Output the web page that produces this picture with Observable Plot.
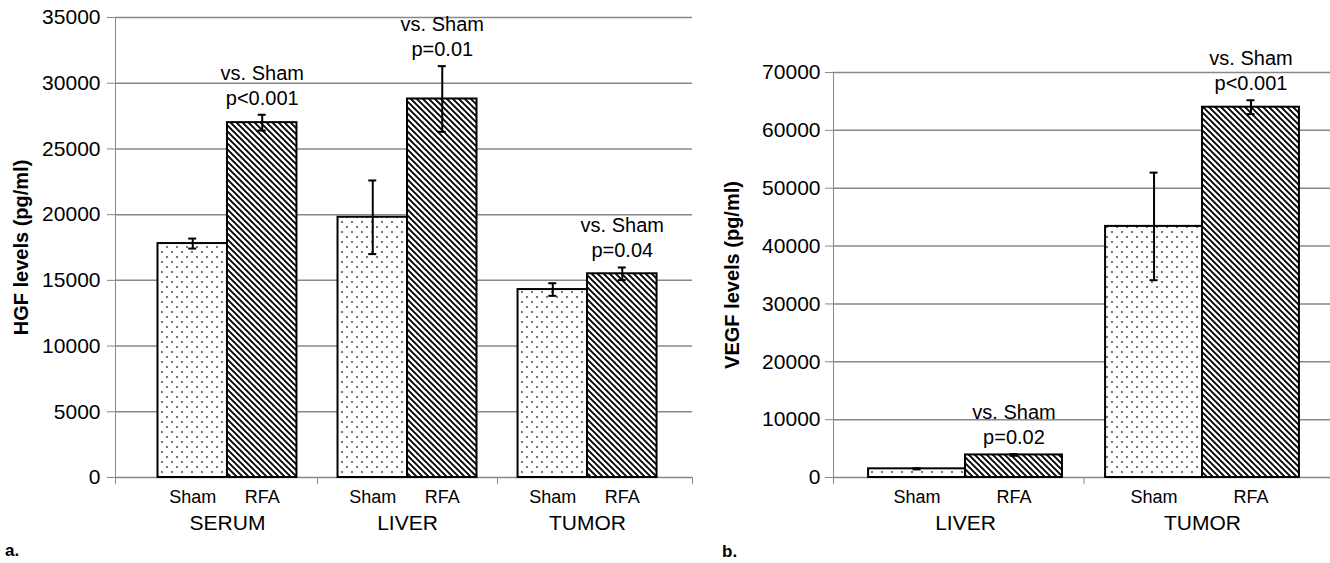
<!DOCTYPE html>
<html>
<head>
<meta charset="utf-8">
<script src="https://cdn.jsdelivr.net/npm/d3@7"></script>
<script src="https://cdn.jsdelivr.net/npm/@observablehq/plot@0.6"></script>
<style>
  html, body { margin: 0; padding: 0; background: white; }
  #wrap { position: relative; width: 1330px; height: 563px; overflow: hidden; background: white; }
  #left { position: absolute; left: 0; top: 0; }
  #right { position: absolute; left: 700px; top: 0; }
  .panel { position: absolute; font-family: "Liberation Sans Narrow", "Liberation Sans", Arial, sans-serif; font-weight: bold; font-size: 17px; line-height: 17px; color: black; }
</style>
</head>
<body>
<div id="wrap">
  <div id="left"></div>
  <div id="right"></div>
  <div class="panel" style="left:5px; top:542px;">a.</div>
  <div class="panel" style="left:722px; top:543px;">b.</div>
</div>
<script>
// ---- data ----
const conditions = ["Sham", "RFA"];

const hgfGroups = ["SERUM", "LIVER", "TUMOR"];
const hgfSham = [17800, 19800, 14300];
const hgfShamErr = [380, 2800, 480];
const hgfRFA = [27000, 28800, 15500];
const hgfRFAErr = [600, 2500, 480];
const hgfP = ["p<0.001", "p=0.01", "p=0.04"];
const hgfTicks = [0, 5000, 10000, 15000, 20000, 25000, 30000, 35000];
const hgfLabel = "HGF levels (pg/ml)";

const vegfGroups = ["LIVER", "TUMOR"];
const vegfSham = [1500, 43400];
const vegfShamErr = [100, 9300];
const vegfRFA = [3900, 64000];
const vegfRFAErr = [150, 1200];
const vegfP = ["p=0.02", "p<0.001"];
const vegfTicks = [0, 10000, 20000, 30000, 40000, 50000, 60000, 70000];
const vegfLabel = "VEGF levels (pg/ml)";

const compareText = "vs. Sham";

function buildBars(groups, sham, shamErr, rfa, rfaErr, p, barW) {
  return groups.flatMap((g, i) => conditions.map((c, j) => {
    const value = j ? rfa[i] : sham[i];
    const err = j ? rfaErr[i] : shamErr[i];
    const x1 = i + 0.5 - (j ? 0 : barW);
    const x2 = i + 0.5 + (j ? barW : 0);
    return {group: g, gi: i, cond: c, value, err, x1, x2, cx: (x1 + x2) / 2,
            hi: value + err, lo: value - err, note: j ? compareText + "\n" + p[i] : null};
  }));
}

function addPatterns(svg, suffix) {
  const defs = d3.select(svg).insert("defs", ":first-child");
  const dots = defs.append("pattern").attr("id", "dots" + suffix)
    .attr("patternUnits", "userSpaceOnUse").attr("width", 10).attr("height", 10);
  dots.append("rect").attr("width", 10).attr("height", 10).attr("fill", "white");
  dots.append("circle").attr("cx", 2).attr("cy", 2).attr("r", 0.9).attr("fill", "#333");
  dots.append("circle").attr("cx", 7).attr("cy", 7).attr("r", 0.9).attr("fill", "#333");
  const hatch = defs.append("pattern").attr("id", "hatch" + suffix)
    .attr("patternUnits", "userSpaceOnUse").attr("width", 6).attr("height", 6);
  hatch.append("rect").attr("width", 6).attr("height", 6).attr("fill", "white");
  hatch.append("path").attr("d", "M-1,-1L7,7M-4,2L2,8M4,-2L8,2")
    .attr("stroke", "black").attr("stroke-width", 1.9);
}

function chart(opts) {
  const {groups, bars, width, height, marginLeft, marginRight, marginTop, marginBottom,
         xDomain, xTicks, yDomain, yTicks, tickPadding, yLabel, labelDx, suffix, capHalf} = opts;
  const grp = groups.map((g, i) => ({group: g, cx: i + 0.5}));
  const sham = bars.filter(d => d.cond === "Sham");
  const rfa = bars.filter(d => d.cond === "RFA");
  const svg = Plot.plot({
    width, height, marginLeft, marginRight, marginTop, marginBottom,
    style: {color: "#888", background: "white", fontFamily: "'Liberation Sans', Arial, sans-serif", fontSize: "21px", overflow: "visible"},
    x: {type: "linear", domain: xDomain, ticks: xTicks, tickSize: 7, tickFormat: () => "", label: null},
    y: {domain: yDomain, ticks: yTicks, tickSize: 8, tickPadding, tickFormat: d3.format("d"), label: null, line: true},
    marks: [
      Plot.ruleY(yTicks, {stroke: "#888", strokeWidth: 1.5}),
      Plot.rectY(sham, {x1: "x1", x2: "x2", y: "value", fill: `url(#dots${suffix})`, stroke: "black", strokeWidth: 2}),
      Plot.rectY(rfa, {x1: "x1", x2: "x2", y: "value", fill: `url(#hatch${suffix})`, stroke: "black", strokeWidth: 2}),
      Plot.ruleX(bars, {x: "cx", y1: "lo", y2: "hi", stroke: "black", strokeWidth: 2}),
      Plot.ruleY(bars, {x1: "cx", x2: "cx", y: "hi", insetLeft: -capHalf, insetRight: -capHalf, stroke: "black", strokeWidth: 2}),
      Plot.ruleY(bars, {x1: "cx", x2: "cx", y: "lo", insetLeft: -capHalf, insetRight: -capHalf, stroke: "black", strokeWidth: 2}),
      Plot.text(rfa, {x: "cx", y: "hi", text: "note", dy: -10, lineAnchor: "bottom", lineHeight: 1.25, fontSize: 20, fill: "black"}),
      Plot.text(bars, {x: "cx", y: () => 0, text: "cond", dy: 25, lineAnchor: "bottom", fontSize: 18, fill: "black"}),
      Plot.text(grp, {x: "cx", y: () => 0, text: "group", dy: 52, lineAnchor: "bottom", fontSize: 21, fill: "black"}),
      Plot.text([yLabel], {frameAnchor: "left", textAnchor: "middle", rotate: -90, dx: labelDx, text: d => d, fontSize: 20, fontWeight: "bold", fill: "black"})
    ]
  });
  addPatterns(svg, suffix);
  svg.querySelectorAll("text").forEach(t => t.setAttribute("fill", "black"));
  svg.querySelectorAll("g[aria-label^='y-axis'] text").forEach(t => t.style.fontSize = "21px");
  return svg;
}

const hgfBars = buildBars(hgfGroups, hgfSham, hgfShamErr, hgfRFA, hgfRFAErr, hgfP, 0.386);
const xDomL = [-0.122, 3.083];
document.getElementById("left").appendChild(chart({
  groups: hgfGroups, bars: hgfBars, width: 700, height: 563,
  marginLeft: 115, marginRight: 8, marginTop: 17, marginBottom: 86,
  xDomain: xDomL, xTicks: [xDomL[0], 1, 2, xDomL[1]], yDomain: [0, 35000], yTicks: hgfTicks,
  tickPadding: 7, yLabel: hgfLabel, labelDx: -94, suffix: "A", capHalf: 4
}));

const vegfBars = buildBars(vegfGroups, vegfSham, vegfShamErr, vegfRFA, vegfRFAErr, vegfP, 0.409);
const xDomR = [-0.057, 2.04];
document.getElementById("right").appendChild(chart({
  groups: vegfGroups, bars: vegfBars, width: 630, height: 563,
  marginLeft: 133, marginRight: 0, marginTop: 72, marginBottom: 86,
  xDomain: xDomR, xTicks: [xDomR[0], 1], yDomain: [0, 70000], yTicks: vegfTicks,
  tickPadding: 5, yLabel: vegfLabel, labelDx: -101, suffix: "B", capHalf: 4
}));
</script>
</body>
</html>
